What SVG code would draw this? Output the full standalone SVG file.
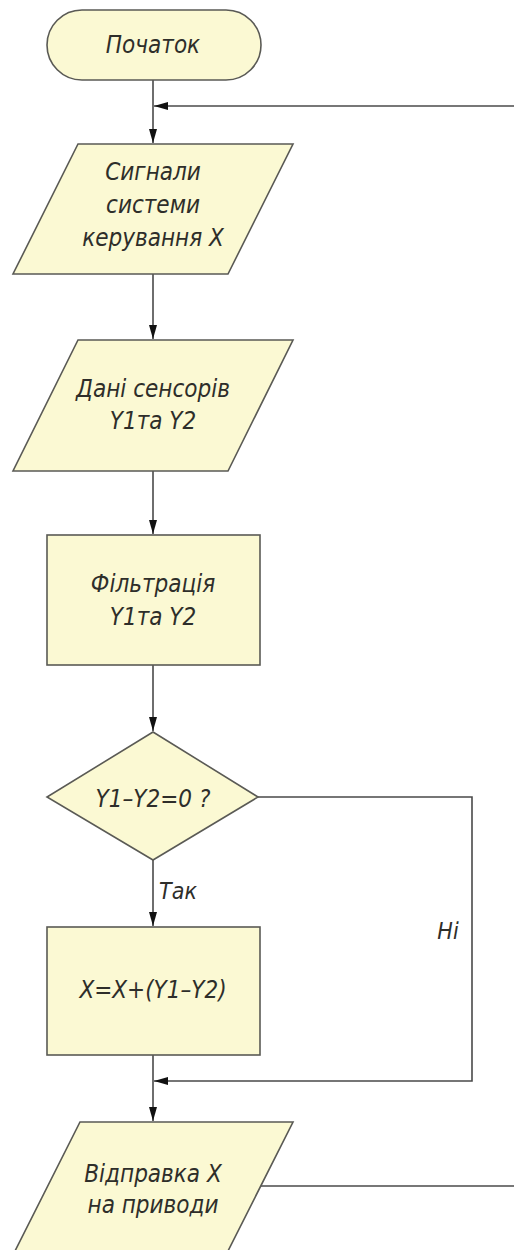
<svg xmlns="http://www.w3.org/2000/svg" width="514" height="1250" viewBox="0 0 514 1250">
<style>
.n{fill:#fbf9d3;stroke:#5a5a55;stroke-width:1.6}
.t{font-family:"DejaVu Sans Condensed","DejaVu Sans",sans-serif;font-style:oblique;font-size:24px;fill:#2e2e2a;text-anchor:middle}
.c{fill:none;stroke:#4a4a4a;stroke-width:1.6}
</style>
<defs>
<marker id="ah" viewBox="0 0 14 8" refX="14" refY="4" markerWidth="14" markerHeight="8" markerUnits="userSpaceOnUse" orient="auto">
<path d="M0,0 L14,4 L0,8 Z" fill="#111"/>
</marker>
</defs>
<g id="connectors">
<path class="c" d="M153,80 V143" marker-end="url(#ah)"/>
<path class="c" d="M514,106 H154" marker-end="url(#ah)"/>
<path class="c" d="M153,274 V339" marker-end="url(#ah)"/>
<path class="c" d="M153,471 V534" marker-end="url(#ah)"/>
<path class="c" d="M153,665 V731" marker-end="url(#ah)"/>
<path class="c" d="M153,860 V926" marker-end="url(#ah)"/>
<path class="c" d="M258,797 H472 V1081 H154" marker-end="url(#ah)"/>
<path class="c" d="M153,1055 V1121" marker-end="url(#ah)"/>
<path class="c" d="M261,1186 H514"/>
<text class="t" x="178" y="899" style="font-size:23px">Так</text>
<text class="t" x="448" y="939" style="font-size:23px">Ні</text>
</g>
<g id="start">
<rect class="n" x="47" y="10" width="214" height="70" rx="35" ry="35"/>
<text class="t" x="153" y="53">Початок</text>
</g>
<g id="input-x">
<polygon class="n" points="78,144 293,144 228,274 13,274"/>
<text class="t" x="153" y="180">Сигнали</text>
<text class="t" x="153" y="213">системи</text>
<text class="t" x="153" y="246">керування X</text>
</g>
<g id="input-sensors">
<polygon class="n" points="78,340 293,340 228,471 13,471"/>
<text class="t" x="153" y="397">Дані сенсорів</text>
<text class="t" x="153" y="429">Y1та Y2</text>
</g>
<g id="filter">
<rect class="n" x="47" y="535" width="213" height="130"/>
<text class="t" x="153" y="592">Фільтрація</text>
<text class="t" x="153" y="625">Y1та Y2</text>
</g>
<g id="decision">
<polygon class="n" points="153,732 258,797 153,860 47,797"/>
<text class="t" x="153" y="807">Y1–Y2=0 ?</text>
</g>
<g id="update">
<rect class="n" x="47" y="927" width="213" height="128"/>
<text class="t" x="153" y="998">X=X+(Y1–Y2)</text>
</g>
<g id="output">
<polygon class="n" points="80,1122 293,1122 228,1251 15,1251"/>
<text class="t" x="153" y="1182">Відправка X</text>
<text class="t" x="153" y="1213">на приводи</text>
</g>
</svg>
